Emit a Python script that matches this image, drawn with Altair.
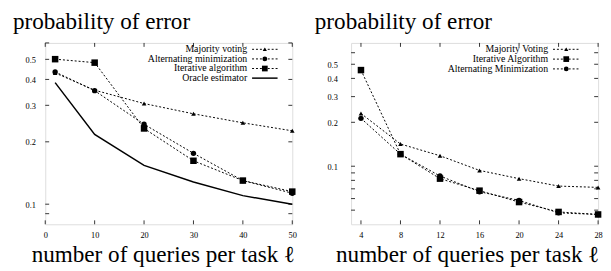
import altair as alt
import pandas as pd

# ---------------- data ----------------
left_x = [2, 10, 20, 30, 40, 50]
left_majority = [0.430, 0.355, 0.306, 0.273, 0.247, 0.226]
left_alternating = [0.435, 0.353, 0.243, 0.176, 0.130, 0.113]
left_iterative = [0.501, 0.482, 0.232, 0.162, 0.130, 0.115]
left_oracle = [0.386, 0.217, 0.154, 0.128, 0.110, 0.100]

right_x = [4, 8, 12, 16, 20, 24, 28]
right_majority = [0.230, 0.142, 0.118, 0.0936, 0.0822, 0.0731, 0.0716]
right_iterative = [0.456, 0.121, 0.0822, 0.068, 0.0568, 0.0486, 0.0467]
right_alternating = [0.213, 0.121, 0.0857, 0.0669, 0.0583, 0.0479, 0.0467]

left_names = ["Majority voting", "Alternating minimization", "Iterative algorithm", "Oracle estimator"]
right_names = ["Majority Voting", "Iterative Algorithm", "Alternating Minimization"]

left_xticks = [0, 10, 20, 30, 40, 50]
left_yticks = [0.1, 0.2, 0.3, 0.4, 0.5]
left_yminor = [0.09, 0.6]
right_xticks = [4, 8, 12, 16, 20, 24, 28]
right_yticks = [0.1, 0.2, 0.3, 0.4, 0.5]
right_yminor = [0.05, 0.06, 0.07, 0.08, 0.09, 0.6]

title_text = "probability of error"
xtitle_text = "number of queries per task \u2113"

FONT = "Liberation Serif"
W = 252
H = 185


def panel(xs, series, names, styles, xdom, ydom, xticks, yticks, yminor,
          ylabpad, legend_pos, title_dx, xtitle_x):
    xs_scale = alt.Scale(domain=xdom, nice=False, zero=False)
    ys_scale = alt.Scale(type="log", domain=ydom, nice=False, zero=False)
    xaxis = alt.Axis(
        values=xticks, title=None, grid=False, ticks=False,
        tickSize=0, domain=False, labelFont=FONT, labelFontSize=8.5,
        labelBaseline="alphabetic", labelPadding=14, labelColor="black",
        labelFlush=False)
    yaxis = alt.Axis(
        values=yticks, format=".1f", title=None, grid=False, ticks=False,
        tickSize=0, domain=False, labelFont=FONT, labelFontSize=8.5,
        labelPadding=ylabpad, labelColor="black")

    def X(f):
        return alt.X(f, scale=xs_scale, axis=xaxis, title=None)

    def Y(f):
        return alt.Y(f, scale=ys_scale, axis=yaxis, title=None)

    layers = []
    rows = []
    for name, vals in zip(names, series):
        for x, v in zip(xs, vals):
            rows.append({"x": x, "y": v, "s": name})
    df = pd.DataFrame(rows)

    for name, (shape, dash, sw) in zip(names, styles):
        base = alt.Chart(df).transform_filter(alt.datum.s == name)
        line = base.mark_line(color="black", strokeWidth=sw,
                              **({"strokeDash": dash} if dash else {})).encode(
            x=X("x:Q"), y=Y("y:Q"))
        layers.append(line)
        if shape:
            pts = base.mark_point(shape=shape, filled=True, color="black", opacity=1,
                                  size={"square": 44, "circle": 30, "triangle-up": 22}[shape]
                                  ).encode(x=X("x:Q"), y=Y("y:Q"))
            layers.append(pts)

    # inward ticks (gnuplot style), on all four sides
    yt = pd.DataFrame({"v": yticks + yminor})
    xt = pd.DataFrame({"v": xticks})
    layers.append(alt.Chart(yt).mark_rule(color="black", strokeWidth=0.8).encode(
        y=Y("v:Q"), x=alt.value(0), x2=alt.value(4)))
    layers.append(alt.Chart(yt).mark_rule(color="black", strokeWidth=0.8).encode(
        y=Y("v:Q"), x=alt.value(W - 4), x2=alt.value(W)))
    layers.append(alt.Chart(xt).mark_rule(color="black", strokeWidth=0.8).encode(
        x=X("v:Q"), y=alt.value(H - 4), y2=alt.value(H)))
    layers.append(alt.Chart(xt).mark_rule(color="black", strokeWidth=0.8).encode(
        x=X("v:Q"), y=alt.value(0), y2=alt.value(4)))

    # legend (inside, top-right)
    tx_right, l0, l1, y0, dy = legend_pos
    one = pd.DataFrame({"a": [0]})
    for i, (name, (shape, dash, sw)) in enumerate(zip(names, styles)):
        yy = y0 + i * dy
        layers.append(alt.Chart(one).mark_text(
            text=name, font=FONT, fontSize=10, align="right", baseline="middle",
            color="black").encode(x=alt.value(tx_right), y=alt.value(yy)))
        layers.append(alt.Chart(one).mark_rule(
            color="black", strokeWidth=sw, **({"strokeDash": dash} if dash else {})
        ).encode(x=alt.value(l0), x2=alt.value(l1), y=alt.value(yy)))
        if shape:
            layers.append(alt.Chart(one).mark_point(
                shape=shape, filled=True, color="black", opacity=1,
                size={"square": 34, "circle": 24, "triangle-up": 18}[shape]
            ).encode(x=alt.value((l0 + l1) / 2), y=alt.value(yy)))

    # titles as text
    layers.append(alt.Chart(one).mark_text(
        text=title_text, font=FONT, fontSize=23.6, align="left",
        baseline="alphabetic", color="black").encode(
        x=alt.value(title_dx), y=alt.value(-14.5)))
    layers.append(alt.Chart(one).mark_text(
        text=xtitle_text, font=FONT, fontSize=23.6, align="center",
        baseline="alphabetic", color="black").encode(
        x=alt.value(xtitle_x), y=alt.value(H + 38.5)))

    return alt.layer(*layers).properties(width=W, height=H)


dot = [2, 2]
left = panel(left_x, [left_majority, left_alternating, left_iterative, left_oracle],
             left_names,
             [("triangle-up", dot, 1), ("circle", dot, 1), ("square", dot, 1), (None, None, 1.5)],
             [0, 50], [0.08, 0.6], left_xticks, left_yticks, left_yminor, 10,
             (206, 211, 237, 6.5, 9.8), -33, 120.5)
right = panel(right_x, [right_majority, right_iterative, right_alternating],
              right_names,
              [("triangle-up", dot, 1), ("square", dot, 1), ("circle", dot, 1)],
              [3, 28], [0.04, 0.7], right_xticks, right_yticks, right_yminor, 14,
              (201, 206, 233, 6.5, 10), -37, 119)

chart = alt.hconcat(left, right, spacing=60, bounds="flush").properties(
    padding={"left": 4, "top": -1, "right": 0, "bottom": 0}
).configure_view(stroke="black", strokeWidth=1).configure(background="white")

chart.save("out.html", embed_options={"renderer": "svg", "actions": False})
